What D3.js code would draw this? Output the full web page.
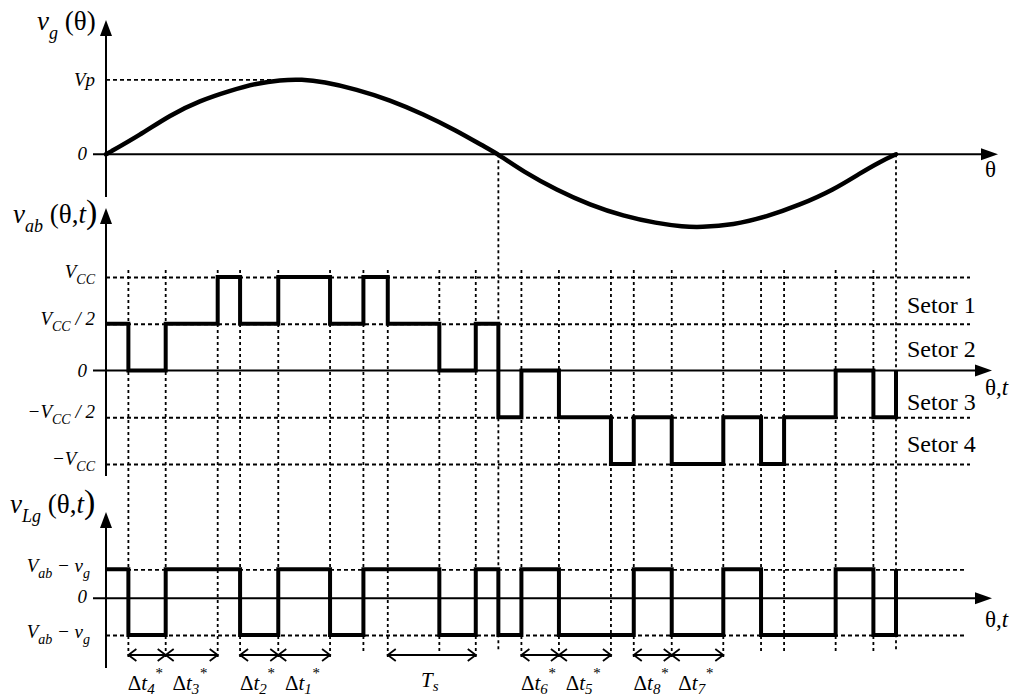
<!DOCTYPE html>
<html><head><meta charset="utf-8">
<script src="https://cdn.jsdelivr.net/npm/d3@7"></script>
<style>
body{margin:0;background:#fff}
svg{display:block;background:#fff}
text, tspan{font-family:"Liberation Serif","Times New Roman",Tinos,"DejaVu Serif",serif;fill:#000}
</style>
</head><body>
<svg id="chart" width="1017" height="697"></svg>
<script>
// ---------- data ----------
// grid voltage samples, theta in degrees, value in units of Vp
const thetaDeg = [0,15.5,29.2,42.8,56.5,68.7,79.3,89.3,98.9,114.2,129.4,144.5,159.8,171.8,178.8,190.2,205.4,220.6,235.7,250.9,263.1,270.7,285.9,301.1,316.1,331.4,343.6,352.7,360];
const vgValues = [0,0.257,0.524,0.715,0.848,0.947,0.991,1.0,0.968,0.867,0.724,0.537,0.315,0.111,0,-0.232,-0.476,-0.676,-0.823,-0.92,-0.965,-0.973,-0.943,-0.832,-0.676,-0.476,-0.253,-0.099,0];
// switching instants (degrees) and levels after each instant
const switchTimes = [0,10.2,27.2,50.9,61.1,78.5,102.1,117.3,128.4,151.9,168.5,178.8,189.3,206.4,230.1,240.5,257.8,281.3,298.5,309.0,332.5,349.7,360];
const vabLevels  = [1,0,1,2,1,2,1,2,1,0,1,-1,0,-1,-2,-1,-2,-1,-2,-1,0,-1,0];   // units of Vcc/2
const vLgLevels  = [1,-1,1,1,-1,1,-1,1,1,-1,1,-1,1,-1,-1,1,-1,1,-1,-1,1,-1,1];
const zeroCrossings = [178.8, 360];
// tick values and labels
const vgTicks = [1, 0];
const vgTickLabels = ["Vp", "0"];
const vabTicks = [2, 1, 0, -1, -2];
const vabTickLabels = ["V_{CC}", "V_{CC} / 2", "0", "−V_{CC} / 2", "−V_{CC}"];
const vLgTicks = [1, 0, -1];
const vLgTickLabels = ["V_{ab} − v_{g}", "0", "V_{ab} − v_{g}"];
const sectorNames = ["Setor 1", "Setor 2", "Setor 3", "Setor 4"];
const sectorLevels = [1.39, 0.45, -0.68, -1.58];
// labelled time intervals
const intervalStarts = [10.2, 27.2, 61.1, 78.5, 128.4, 189.3, 206.4, 240.5, 257.8];
const intervalEnds   = [27.2, 50.9, 78.5, 102.1, 168.5, 206.4, 230.1, 257.8, 281.3];
const intervalLabels = ["Δt_{4}^{*}", "Δt_{3}^{*}", "Δt_{2}^{*}", "Δt_{1}^{*}", "T_{s}", "Δt_{6}^{*}", "Δt_{5}^{*}", "Δt_{8}^{*}", "Δt_{7}^{*}"];
const titles = ["v_{g} (θ)", "v_{ab} (θ,t)", "v_{Lg} (θ,t)"];
const xAxisLabels = ["θ", "θ,t", "θ,t"];

// ---------- scales ----------
const svg = d3.select("#chart");
const FONT = "'Liberation Serif', 'Times New Roman', Tinos, 'DejaVu Serif', serif";
const x = d3.scaleLinear().domain([0, 360]).range([106, 896]);
const yTop = d3.scaleLinear().domain([-1, 1]).range([229.3, 79.3]);
const yAb = d3.scaleLinear().domain([-2, 2]).range([464, 277]);
const yLg = d3.scaleLinear().domain([-1, 0, 1]).range([635, 598.3, 569.3]);
const X0 = x(0);

// ---------- rich text helper ----------
function rich(sel, str, o) {
  const t = sel.append("text").attr("x", o.x).attr("y", o.y)
    .attr("font-family", FONT)
    .attr("text-anchor", o.anchor || "start");
  const tokens = str.match(/(_\{[^}]*\}|\^\{[^}]*\}|[^_^]+)/g);
  let cur = 0;
  tokens.forEach(tok => {
    let kind = "base", txt = tok;
    if (tok.startsWith("_{")) { kind = "sub"; txt = tok.slice(2, -1); }
    else if (tok.startsWith("^{")) { kind = "sup"; txt = tok.slice(2, -1); }
    const size = kind === "base" ? o.size : o.subSize;
    const target = kind === "sub" ? o.size * (o.subShift || 0.32) : kind === "sup" ? -o.size * (o.supShift || 0.5) : 0;
    const parts = txt.match(/([θΔ(),]+|[^θΔ(),]+)/g) || [];
    parts.forEach(p => {
      const upright = /[θΔ(),]/.test(p) || o.italic === false;
      const isParen = /^[()]+$/.test(p);
      const ts = t.append("tspan").text(p)
        .attr("font-family", FONT)
        .attr("font-size", isParen && o.parenSize ? o.parenSize : size)
        .attr("font-style", upright ? "normal" : "italic");
      if (target !== cur) { ts.attr("dy", target - cur); cur = target; }
    });
  });
  return t;
}

// ---------- grid: horizontal dashed lines via axes ----------
function hGrid(scale, ticks, len) {
  const g = svg.append("g").attr("transform", `translate(${X0},0)`)
    .call(d3.axisLeft(scale).tickValues(ticks).tickSize(-len).tickFormat(""));
  g.select(".domain").remove();
  g.selectAll(".tick line").attr("stroke", "#000").attr("stroke-width", 1.8)
    .attr("stroke-dasharray", "4,3");
}
hGrid(yTop, [1], x(89.3) - X0);
hGrid(yAb, [2, 1, -1, -2], 970 - X0);
hGrid(yLg, [1, -1], 965 - X0);

// ---------- vertical dashed lines ----------
const arrowEnds = new Set([...intervalStarts, ...intervalEnds]);
svg.append("g").selectAll("line").data(switchTimes.slice(1)).join("line")
  .attr("x1", d => x(d)).attr("x2", d => x(d))
  .attr("y1", d => zeroCrossings.includes(d) ? yTop(0) : 270)
  .attr("y2", d => arrowEnds.has(d) ? 658 : 652)
  .attr("stroke", "#000").attr("stroke-width", 1.8).attr("stroke-dasharray", "3,3");

// ---------- axes ----------
const axG = svg.append("g");
function vAxis(yTopTip, yBottom) {
  axG.append("line").attr("x1", X0).attr("x2", X0).attr("y1", yTopTip + 14).attr("y2", yBottom)
    .attr("stroke", "#000").attr("stroke-width", 2);
  axG.append("path").attr("d", `M${X0},${yTopTip} L${X0 - 6},${yTopTip + 16} L${X0 + 6},${yTopTip + 16} Z`).attr("fill", "#000");
}
function hAxis(y, tip) {
  axG.append("line").attr("x1", 93).attr("x2", tip - 14).attr("y1", y).attr("y2", y)
    .attr("stroke", "#000").attr("stroke-width", 2);
  axG.append("path").attr("d", `M${tip},${y} L${tip - 17},${y - 6} L${tip - 17},${y + 6} Z`).attr("fill", "#000");
}
vAxis(20, 197); vAxis(208, 476); vAxis(512, 668);
hAxis(yTop(0), 998); hAxis(yAb(0), 992); hAxis(yLg(0), 992);

// ---------- tick labels ----------
const lab = svg.append("g");
vgTicks.forEach((v, i) => rich(lab, vgTickLabels[i], {x: v === 0 ? 87 : 95, y: yTop(v) + (v === 0 ? 6 : 7), anchor: "end", size: 19, subSize: 14}));
vabTicks.forEach((v, i) => rich(lab, vabTickLabels[i], {x: v === 0 ? 87 : 95, y: yAb(v) + (v === 0 ? 6 : 1), anchor: "end", size: 19, subSize: 14}));
vLgTicks.forEach((v, i) => rich(lab, vLgTickLabels[i], {x: v === 0 ? 87 : 90, y: yLg(v) + (v === 0 ? 5 : 3), anchor: "end", size: 19, subSize: 14}));

// titles
const titleY = [30, 223, 513], titleX = [37, 13, 10];
titles.forEach((s, i) => rich(lab, s, {x: titleX[i], y: titleY[i], size: 27, subSize: 18, parenSize: 34}));

// x axis labels
rich(lab, xAxisLabels[0], {x: 985, y: 177, size: 23, subSize: 15});
rich(lab, xAxisLabels[1], {x: 985, y: 395, size: 23, subSize: 15});
rich(lab, xAxisLabels[2], {x: 985, y: 627, size: 23, subSize: 15});

// sector labels
sectorNames.forEach((s, i) => rich(lab, s, {x: 907, y: yAb(sectorLevels[i]) + 7.5, size: 24, subSize: 15, italic: false}));

// ---------- waveforms ----------
svg.append("path").datum(thetaDeg.map((t, i) => [t, vgValues[i]]))
  .attr("d", d3.line().x(d => x(d[0])).y(d => yTop(d[1])).curve(d3.curveBasis))
  .attr("fill", "none").attr("stroke", "#000").attr("stroke-width", 4.5).attr("stroke-linecap", "round");

svg.append("path").datum(switchTimes.map((t, i) => [t, vabLevels[i]]))
  .attr("d", d3.line().x(d => x(d[0])).y(d => yAb(d[1])).curve(d3.curveStepAfter))
  .attr("fill", "none").attr("stroke", "#000").attr("stroke-width", 4).attr("stroke-linejoin", "miter");

svg.append("path").datum(switchTimes.map((t, i) => [t, vLgLevels[i]]))
  .attr("d", d3.line().x(d => x(d[0])).y(d => yLg(d[1])).curve(d3.curveStepAfter))
  .attr("fill", "none").attr("stroke", "#000").attr("stroke-width", 4).attr("stroke-linejoin", "miter");

// ---------- interval arrows ----------
const arrY = 655;
const arr = svg.append("g").attr("fill", "none").attr("stroke", "#000").attr("stroke-width", 1.8);
intervalStarts.forEach((s, i) => {
  const a = x(s), b = x(intervalEnds[i]);
  arr.append("line").attr("x1", a).attr("x2", b).attr("y1", arrY).attr("y2", arrY);
  arr.append("path").attr("d", `M${a + 8},${arrY - 6} L${a},${arrY} L${a + 8},${arrY + 6}`);
  arr.append("path").attr("d", `M${b - 8},${arrY - 6} L${b},${arrY} L${b - 8},${arrY + 6}`);
  rich(lab, intervalLabels[i], {x: (a + b) / 2 - 2, y: i === 4 ? 687 : 690, anchor: "middle", size: 21, subSize: 15, subShift: 0.2, supShift: 0.55});
});
</script>
</body></html>
